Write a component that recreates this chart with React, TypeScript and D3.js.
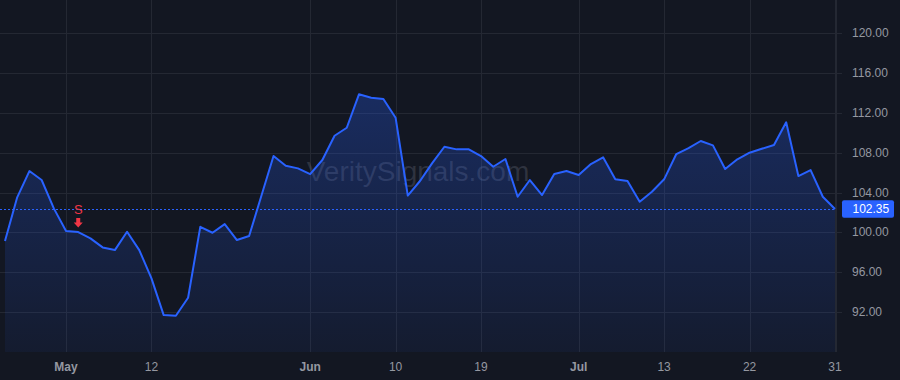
import React from "react";
import * as d3 from "d3";

const values: number[] = [
  99.13, 103.52, 106.16, 105.26, 102.41, 100.13, 100.03, 99.4, 98.49, 98.22,
  100.06, 98.22, 95.38, 91.69, 91.62, 93.43, 100.56, 99.96, 100.83, 99.23,
  99.63, 103.65, 107.67, 106.69, 106.43, 105.86, 107.27, 109.71, 110.51, 113.87,
  113.53, 113.4, 111.52, 103.7, 105.16, 106.96, 108.6, 108.34, 108.34, 107.67,
  106.59, 107.37, 103.58, 105.26, 103.75, 105.86, 106.16, 105.76, 106.86, 107.54,
  105.33, 105.16, 103.08, 104.08, 105.33, 107.87, 108.47, 109.18, 108.74, 106.36,
  107.34, 108.0, 108.4, 108.77, 111.06, 105.66, 106.26, 103.58, 102.35,
];

const xTickIndex: number[] = [5, 12, 25, 32, 39, 47, 54, 61, 68];
const xTickLabels: string[] = ["May", "12", "Jun", "10", "19", "Jul", "13", "22", "31"];
const xTickBold: boolean[] = [true, false, true, false, false, true, false, false, false];

const yTicks: number[] = [92, 96, 100, 104, 108, 112, 116, 120];

const signalIndex: number[] = [6];
const signalLabels: string[] = ["S"];

const lastPrice = 102.35;
const watermark = "VeritySignals.com";

const W = 900;
const H = 380;
const plotRight = 836;
const plotBottom = 352;
const BG = "#131722";
const GRID = "#242833";
const TEXT = "#9598a1";
const BLUE = "#2962ff";
const RED = "#f23645";
const FONT = "'Liberation Sans', Arial, sans-serif";

export default function App() {
  const x = d3.scaleLinear().domain([0, values.length - 1]).range([5, 835]);
  const y = d3.scaleLinear().domain([92, 120]).range([312, 33.3]);

  const line = d3
    .line<number>()
    .x((_, i) => x(i))
    .y((d) => y(d));
  const area = d3
    .area<number>()
    .x((_, i) => x(i))
    .y0(plotBottom)
    .y1((d) => y(d));

  const py = y(lastPrice);

  return (
    <svg
      width={W}
      height={H}
      style={{ position: "fixed", left: 0, top: 0, background: BG }}
    >
      <defs>
        <linearGradient id="areaGrad" gradientUnits="userSpaceOnUse" x1={0} y1={y(114)} x2={0} y2={plotBottom}>
          <stop offset="0%" stopColor={BLUE} stopOpacity={0.28} />
          <stop offset="100%" stopColor={BLUE} stopOpacity={0.06} />
        </linearGradient>
      </defs>
      <rect x={0} y={0} width={W} height={H} fill={BG} />

      {/* horizontal grid */}
      {yTicks.map((t) => (
        <line
          key={"hy" + t}
          x1={0}
          x2={plotRight + 6}
          y1={Math.round(y(t)) + 0.5}
          y2={Math.round(y(t)) + 0.5}
          stroke={GRID}
          strokeWidth={1}
        />
      ))}
      {/* vertical grid */}
      {xTickIndex.map((idx, k) => (
        <line
          key={"vx" + k}
          x1={Math.round(x(idx)) + 0.5}
          x2={Math.round(x(idx)) + 0.5}
          y1={0}
          y2={plotBottom}
          stroke={GRID}
          strokeWidth={1}
        />
      ))}
      {/* right axis border */}
      <line x1={plotRight + 0.5} x2={plotRight + 0.5} y1={0} y2={plotBottom} stroke={GRID} />

      {/* watermark */}
      <text
        x={418}
        y={174}
        textAnchor="middle"
        dominantBaseline="middle"
        fontFamily={FONT}
        fontSize={28}
        fill="rgba(150,155,170,0.22)"
      >
        {watermark}
      </text>

      {/* area + line */}
      <path d={area(values) || ""} fill="url(#areaGrad)" />
      <path d={line(values) || ""} fill="none" stroke={BLUE} strokeWidth={2} strokeLinejoin="round" />

      {/* price line */}
      <line
        x1={0}
        x2={plotRight}
        y1={Math.round(py) + 0.5}
        y2={Math.round(py) + 0.5}
        stroke={BLUE}
        strokeWidth={1}
        strokeDasharray="2,2"
      />

      {/* signals */}
      {signalIndex.map((idx, k) => {
        const cx = x(idx);
        const head = y(values[idx]) - 9.5;
        return (
          <g key={"sig" + k}>
            <text
              x={cx}
              y={head - 13.5}
              textAnchor="middle"
              dominantBaseline="central"
              fontFamily={FONT}
              fontSize={13}
              fill={RED}
            >
              {signalLabels[k]}
            </text>
            <path
              d={`M${cx - 2},${head - 4.5} L${cx + 2},${head - 4.5} L${cx + 2},${head} L${cx + 4.5},${head} L${cx},${head + 5} L${cx - 4.5},${head} L${cx - 2},${head} Z`}
              fill={RED}
            />
          </g>
        );
      })}

      {/* y axis labels */}
      {yTicks.map((t) => (
        <text
          key={"yl" + t}
          x={852}
          y={y(t)}
          dominantBaseline="central"
          fontFamily={FONT}
          fontSize={12}
          fill={TEXT}
        >
          {t.toFixed(2)}
        </text>
      ))}

      {/* last price label */}
      <rect x={842} y={py - 8.8} width={52} height={17.5} rx={2} fill={BLUE} />
      <text
        x={852.5}
        y={py}
        dominantBaseline="central"
        fontFamily={FONT}
        fontSize={12}
        fill="#ffffff"
      >
        {lastPrice.toFixed(2)}
      </text>

      {/* x axis labels */}
      {xTickIndex.map((idx, k) => (
        <text
          key={"xl" + k}
          x={x(idx)}
          y={367}
          textAnchor="middle"
          dominantBaseline="central"
          fontFamily={FONT}
          fontSize={12}
          fontWeight={xTickBold[k] ? 700 : 400}
          fill={TEXT}
        >
          {xTickLabels[k]}
        </text>
      ))}
    </svg>
  );
}
